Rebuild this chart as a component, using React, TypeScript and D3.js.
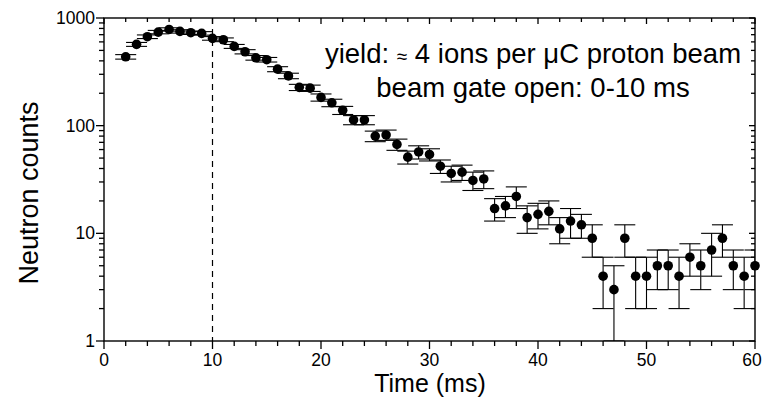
import React from "react";
import * as d3 from "d3";

const times = [2, 3, 4, 5, 6, 7, 8, 9, 10, 11, 12, 13, 14, 15, 16, 17, 18, 19, 20, 21, 22, 23, 24, 25, 26, 27, 28, 29, 30, 31, 32, 33, 34, 35, 36, 37, 38, 39, 40, 41, 42, 43, 44, 45, 46, 47, 48, 49, 50, 51, 52, 53, 54, 55, 56, 57, 58, 59, 60];
const counts = [436, 569, 670, 740, 783, 751, 730, 720, 647, 628, 545, 486, 427, 410, 335, 290, 227, 223, 183, 163, 139, 113, 113, 80, 82, 67, 51, 57, 54, 42, 36, 37, 31, 32, 17, 18, 22, 14, 15, 16, 11, 13, 12, 9, 4, 3, 9, 4, 4, 5, 5, 4, 6, 5, 7, 9, 5, 4, 5];
const errors = [21, 24, 26, 27, 28, 27, 27, 27, 25, 25, 23, 22, 21, 20, 18, 17, 15, 15, 14, 13, 12, 11, 11, 9, 9, 8, 7, 8, 7, 6, 6, 6, 6, 6, 4, 4, 5, 4, 4, 4, 3, 4, 3, 3, 2, 2, 3, 2, 2, 2, 2, 2, 2, 2, 3, 3, 2, 2, 2];
const xMajorTicks = [0, 10, 20, 30, 40, 50, 60];
const xMinorTicks = [2, 4, 6, 8, 12, 14, 16, 18, 22, 24, 26, 28, 32, 34, 36, 38, 42, 44, 46, 48, 52, 54, 56, 58];
const yMajorTicks = [1, 10, 100, 1000];
const yMinorTicks = [2, 3, 4, 5, 6, 7, 8, 9, 20, 30, 40, 50, 60, 70, 80, 90, 200, 300, 400, 500, 600, 700, 800, 900];
const gateEnd = 10;
const annotation1 = ["yield: ", "≈", " 4 ions per ", "μ", "C proton beam"];
const annotation2 = "beam gate open: 0-10 ms";

const W = 763, H = 400;
const L = 104, R = 755, T = 18, B = 341;
const FONT = "'Liberation Sans', Arial, sans-serif";

export default function App() {
  const x = d3.scaleLinear().domain([0, 60]).range([L, R]);
  const y = d3.scaleLog().domain([1, 1000]).range([B, T]);
  const capHalf = 10.5;
  const data = times.map((t, i) => ({ t, v: counts[i], e: errors[i] }));
  const lo = (v: number) => Math.max(1, v);

  return (
    <svg width={W} height={H} style={{ position: "absolute", left: 0, top: 0, background: "#fff" }} fontFamily={FONT}>
      <defs>
        <clipPath id="plotclip">
          <rect x={L} y={T} width={R - L} height={B - T} />
        </clipPath>
      </defs>
      <rect x={0} y={0} width={W} height={H} fill="#fff" />
      <line x1={x(gateEnd)} x2={x(gateEnd)} y1={T} y2={B} stroke="#000" strokeWidth={1.2} strokeDasharray="6,5" />
      <g clipPath="url(#plotclip)" stroke="#000" strokeWidth={1.1}>
        {data.map((d, i) => (
          <g key={i}>
            <line x1={x(d.t)} x2={x(d.t)} y1={y(d.v + d.e)} y2={y(lo(d.v - d.e))} />
            <line x1={x(d.t) - capHalf} x2={x(d.t) + capHalf} y1={y(d.v + d.e)} y2={y(d.v + d.e)} />
            <line x1={x(d.t) - capHalf} x2={x(d.t) + capHalf} y1={y(lo(d.v - d.e))} y2={y(lo(d.v - d.e))} />
          </g>
        ))}
      </g>
      <g fill="#000">
        {data.map((d, i) => (
          <circle key={i} cx={x(d.t)} cy={y(d.v)} r={4.8} />
        ))}
      </g>
      <rect x={L} y={T} width={R - L} height={B - T} fill="none" stroke="#000" strokeWidth={1.4} />
      <g stroke="#000" strokeWidth={1.3}>
        {xMajorTicks.map((t) => (
          <g key={"xM" + t}>
            <line x1={x(t)} x2={x(t)} y1={B} y2={B + 8} />
            <line x1={x(t)} x2={x(t)} y1={T} y2={T + 6} />
          </g>
        ))}
        {xMinorTicks.map((t) => (
          <g key={"xm" + t}>
            <line x1={x(t)} x2={x(t)} y1={B} y2={B + 5} />
            <line x1={x(t)} x2={x(t)} y1={T} y2={T + 4} />
          </g>
        ))}
        {yMajorTicks.map((t) => (
          <g key={"yM" + t}>
            <line x1={L - 8} x2={L} y1={y(t)} y2={y(t)} />
            <line x1={R - 6} x2={R} y1={y(t)} y2={y(t)} />
          </g>
        ))}
        {yMinorTicks.map((t) => (
          <g key={"ym" + t}>
            <line x1={L - 5} x2={L} y1={y(t)} y2={y(t)} />
            <line x1={R - 4} x2={R} y1={y(t)} y2={y(t)} />
          </g>
        ))}
      </g>
      <g fontSize={17.5} fill="#000">
        {xMajorTicks.map((t) => (
          <text key={"xl" + t} x={Math.min(x(t), W - 11)} y={B + 25} textAnchor="middle">{t}</text>
        ))}
        {yMajorTicks.map((t) => (
          <text key={"yl" + t} x={L - 9} y={y(t) + 6} textAnchor="end">{t}</text>
        ))}
      </g>
      <text x={430} y={392} textAnchor="middle" fontSize={25} fill="#000">Time (ms)</text>
      <text transform={`translate(38,193) rotate(-90)`} textAnchor="middle" fontSize={27} fill="#000">Neutron counts</text>
      <text x={533} y={63} textAnchor="middle" fontSize={27.5} fill="#000">
        <tspan>{annotation1[0]}</tspan>
        <tspan fontSize={19}>{annotation1[1]}</tspan>
        <tspan>{annotation1[2]}</tspan>
        <tspan>{annotation1[3]}</tspan>
        <tspan>{annotation1[4]}</tspan>
      </text>
      <text x={533} y={97} textAnchor="middle" fontSize={27.5} fill="#000">{annotation2}</text>
    </svg>
  );
}
